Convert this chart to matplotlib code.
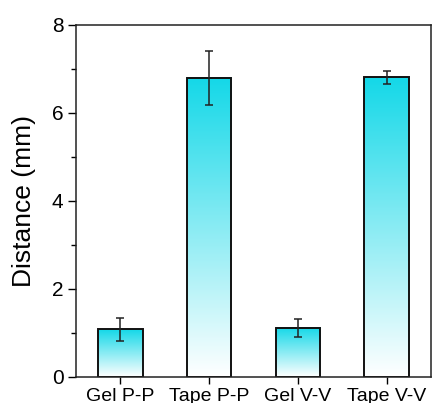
import matplotlib.pyplot as plt
import numpy as np
from matplotlib.colors import LinearSegmentedColormap

plt.rcParams['font.family'] = ['Liberation Sans', 'DejaVu Sans']

# data
labels = ["Gel P-P", "Tape P-P", "Gel V-V", "Tape V-V"]
means = [1.08, 6.80, 1.12, 6.81]
errs = [0.26, 0.61, 0.20, 0.15]

cmap = LinearSegmentedColormap.from_list("cy", ["#ffffff", "#14d8e8"])

fig = plt.figure(figsize=(4.32, 4.03), dpi=100)
ax = fig.add_axes([76/432, 1 - 377/403, (431 - 76)/432, (377 - 25)/403])

x = np.arange(1, len(labels) + 1)
w = 0.5
grad = np.linspace(0, 1, 256).reshape(-1, 1)
for xi, m in zip(x, means):
    ax.imshow(grad, cmap=cmap, origin="lower", aspect="auto",
              extent=(xi - w/2, xi + w/2, 0, m), zorder=1)
ax.bar(x, means, width=w, facecolor="none", edgecolor="#111111", linewidth=1.4, zorder=2)
ax.errorbar(x, means, yerr=errs, fmt="none", ecolor="#222222", elinewidth=1.1,
            capsize=2.6, capthick=1.1, zorder=3)

ax.set_xlim(0.5, 4.5)
ax.set_ylim(0, 8)
ax.set_xticks(x)
ax.set_xticklabels(labels, fontsize=14)
ax.set_yticks([0, 2, 4, 6, 8])
ax.set_yticks([1, 3, 5, 7], minor=True)
ax.tick_params(axis="y", labelsize=15, length=6, width=1, pad=3)
ax.tick_params(axis="y", which="minor", length=3.5, width=1)
ax.tick_params(axis="x", length=5, width=1, pad=3)
ax.set_ylabel("Distance (mm)", fontsize=19, labelpad=11)
for s in ax.spines.values():
    s.set_linewidth(1.1)
    s.set_color("#222222")

fig.savefig("out.png", dpi=100)
